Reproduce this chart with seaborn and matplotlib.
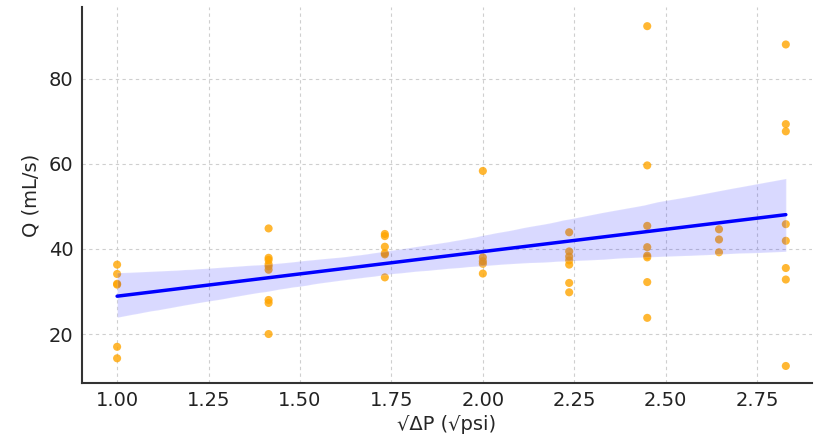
import numpy as np
import pandas as pd
import matplotlib
matplotlib.use("Agg")
import matplotlib.pyplot as plt
import seaborn as sns

# sqrt(delta P) levels and the measured flow rates at each level
dp_levels = [1, 2, 3, 4, 5, 6, 7, 8]
q_dp1 = [36.3, 34.1, 31.8, 31.6, 17.0, 14.3]
q_dp2 = [44.8, 37.9, 37.4, 36.4, 35.9, 35.1, 28.0, 27.3, 20.0]
q_dp3 = [43.5, 43.0, 40.5, 39.0, 38.7, 33.3]
q_dp4 = [58.3, 38.0, 37.1, 36.5, 34.2]
q_dp5 = [43.9, 39.4, 38.2, 37.3, 36.3, 32.0, 29.8]
q_dp6 = [92.3, 59.6, 45.4, 40.4, 38.4, 38.0, 32.2, 23.8]
q_dp7 = [44.6, 42.2, 39.2]
q_dp8 = [88.0, 69.3, 67.6, 45.8, 41.9, 35.5, 32.8, 12.5]
groups = [q_dp1, q_dp2, q_dp3, q_dp4, q_dp5, q_dp6, q_dp7, q_dp8]

xs, ys = [], []
for dp, g in zip(dp_levels, groups):
    for q in g:
        xs.append(np.sqrt(dp))
        ys.append(q)
df = pd.DataFrame({"sqrt_dp": xs, "Q": ys})

sns.set_style("white")
plt.rcParams["font.family"] = ["DejaVu Sans"]

fig = plt.figure(figsize=(8.15, 4.45), dpi=100)
ax = fig.add_axes([82 / 815, 1 - 383 / 445, (812 - 82) / 815, (383 - 7) / 445])

sns.regplot(data=df, x="sqrt_dp", y="Q", ax=ax, seed=3,
            scatter_kws=dict(color="orange", alpha=0.8, s=34, edgecolor="none"),
            line_kws=dict(color="blue", lw=2.5))

ax.set_xlim(0.904, 2.90)
ax.set_ylim(8.5, 96.8)
ax.set_xticks([1.00, 1.25, 1.50, 1.75, 2.00, 2.25, 2.50, 2.75])
ax.set_xticklabels(["1.00", "1.25", "1.50", "1.75", "2.00", "2.25", "2.50", "2.75"])
ax.set_yticks([20, 40, 60, 80])
ax.set_xlabel("√ΔP (√psi)", fontsize=14, labelpad=3)
ax.set_ylabel("Q (mL/s)", fontsize=14, labelpad=6)
ax.tick_params(axis="both", direction="in", labelsize=14, length=4, width=1.2,
               color="#333333", labelcolor="#222222", pad=6)
ax.grid(True, linestyle=(0, (3, 3)), color="#cfcfcf", linewidth=0.8)
for side in ["top", "right"]:
    ax.spines[side].set_visible(False)
for side in ["left", "bottom"]:
    ax.spines[side].set_color("#333333")
    ax.spines[side].set_linewidth(1.5)

fig.savefig("out.png", dpi=100)
